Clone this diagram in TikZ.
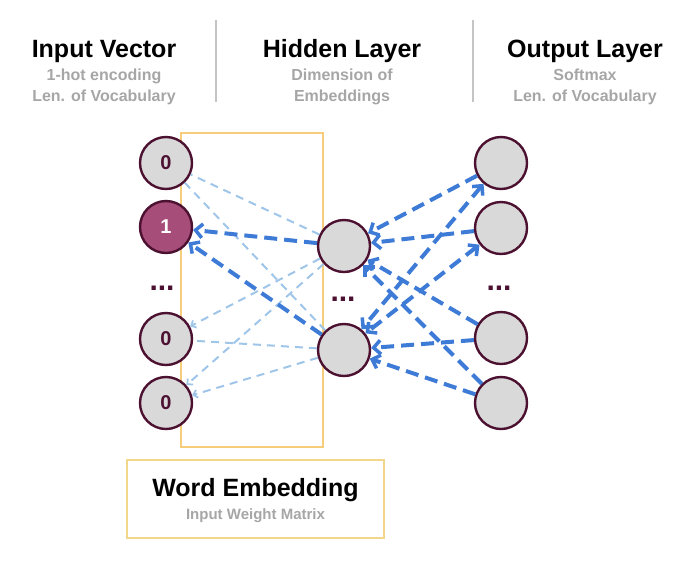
\documentclass[tikz,border=0pt]{standalone}
\usepackage{fontspec}
\setmainfont{Liberation Sans}
\usetikzlibrary{arrows.meta}
\definecolor{maroon}{HTML}{4C1130}
\definecolor{nodegray}{HTML}{D9D9D9}
\definecolor{hot}{HTML}{A64D79}
\definecolor{darkblue}{HTML}{3D7BD6}
\definecolor{lightblue}{HTML}{9FC5E8}
\definecolor{subgray}{HTML}{A6A6A6}
\definecolor{boxyellow}{HTML}{F6CD7A}
\definecolor{boxyellow2}{HTML}{F2D68C}
\definecolor{divgray}{HTML}{C4C4C4}
\tikzset{
  neuron/.style={circle, draw=maroon, line width=2.4pt, fill=nodegray, minimum size=52pt, inner sep=0pt,
    font=\fontsize{20}{24}\selectfont\bfseries, text=maroon},
  hotneuron/.style={neuron, fill=hot, text=white},
  title/.style={font=\fontsize{25}{30}\selectfont\bfseries, text=black, inner sep=0pt},
  subtitle/.style={font=\fontsize{16}{21}\selectfont\bfseries, text=subgray, align=center, inner sep=0pt},
  dots/.style={font=\fontsize{30}{30}\selectfont\bfseries, text=maroon, inner sep=0pt},
  lightedge/.style={draw=lightblue, line width=2pt, dash pattern=on 8pt off 6pt},
  darkedge/.style={draw=darkblue, line width=4pt, dash pattern=on 13pt off 7pt},
  tip/.style={-{Straight Barb[length=7pt,width=14pt,line width=3.5pt]}},
  smalltip/.style={-{Straight Barb[length=4pt,width=8pt,line width=1.8pt]}},
  divider/.style={draw=divgray, line width=1.5pt},
}
\begin{document}
\begin{tikzpicture}[x=1pt,y=-1pt]
\useasboundingbox (0,0) rectangle (700,576);
% headers
\node[title] (t1) at (104,51) {Input Vector};
\node[subtitle] (s1) at (104,87) {1-hot encoding\\Len. of Vocabulary};
\node[title] (t2) at (342,51) {Hidden Layer};
\node[subtitle] (s2) at (342,87) {Dimension of\\Embeddings};
\node[title] (t3) at (585,51) {Output Layer};
\node[subtitle] (s3) at (585,87) {Softmax\\Len. of Vocabulary};
\coordinate (d1a) at (216,20); \coordinate (d1b) at (216,102);
\coordinate (d2a) at (473,20); \coordinate (d2b) at (473,102);
\draw[divider] (d1a) -- (d1b);
\draw[divider] (d2a) -- (d2b);
% embedding matrix box
\coordinate (m1) at (181,133); \coordinate (m2) at (323,447);
\draw[boxyellow, line width=1.5pt] (m1) rectangle (m2);
% nodes
\node[neuron] (i1) at (166,163) {0};
\node[hotneuron] (i2) at (166,227) {1};
\node[dots] (idots) at (162,288) {...};
\node[neuron] (i3) at (166,339) {0};
\node[neuron] (i4) at (166,403) {0};
\node[neuron] (h1) at (344,246) {};
\node[dots] (hdots) at (343,299) {...};
\node[neuron] (h2) at (344,350) {};
\node[neuron] (o1) at (501,163) {};
\node[neuron] (o2) at (501,228) {};
\node[dots] (odots) at (499,288) {...};
\node[neuron] (o3) at (501,338) {};
\node[neuron] (o4) at (501,403) {};
% light edges
\draw[lightedge] (h1) -- (i1);
\draw[lightedge] (h2) -- (i1);
\draw[lightedge, smalltip] (h1) -- (i3);
\draw[lightedge] (h2) -- (i3);
\draw[lightedge, smalltip] (h1) -- (i4);
\draw[lightedge, smalltip] (h2) -- (i4);
% dark edges to input
\draw[darkedge, tip] (h1) -- (i2);
\draw[darkedge, tip] (h2) -- (i2);
% dark edges hidden-output
\draw[darkedge, tip] (o1) -- (h1);
\draw[darkedge, tip] (o2) -- (h1);
\draw[darkedge, tip] (o3) -- (h1);
\draw[darkedge, tip] (o4) -- (h1);
\draw[darkedge, {Straight Barb[length=7pt,width=14pt,line width=3.5pt]}-{Straight Barb[length=7pt,width=14pt,line width=3.5pt]}] (o1) -- (h2);
\draw[darkedge, {Straight Barb[length=7pt,width=14pt,line width=3.5pt]}-{Straight Barb[length=7pt,width=14pt,line width=3.5pt]}] (o2) -- (h2);
\draw[darkedge, tip] (o3) -- (h2);
\draw[darkedge, tip] (o4) -- (h2);
% word embedding box
\node[draw=boxyellow2, line width=1.5pt, minimum width=257pt, minimum height=78pt, inner sep=0pt] (web) at (255.5,499) {};
\node[title] (wt) at (255.5,490) {Word Embedding};
\node[subtitle, font=\fontsize{15}{18}\selectfont\bfseries] (ws) at (255.5,516) {Input Weight Matrix};
\end{tikzpicture}
\end{document}
